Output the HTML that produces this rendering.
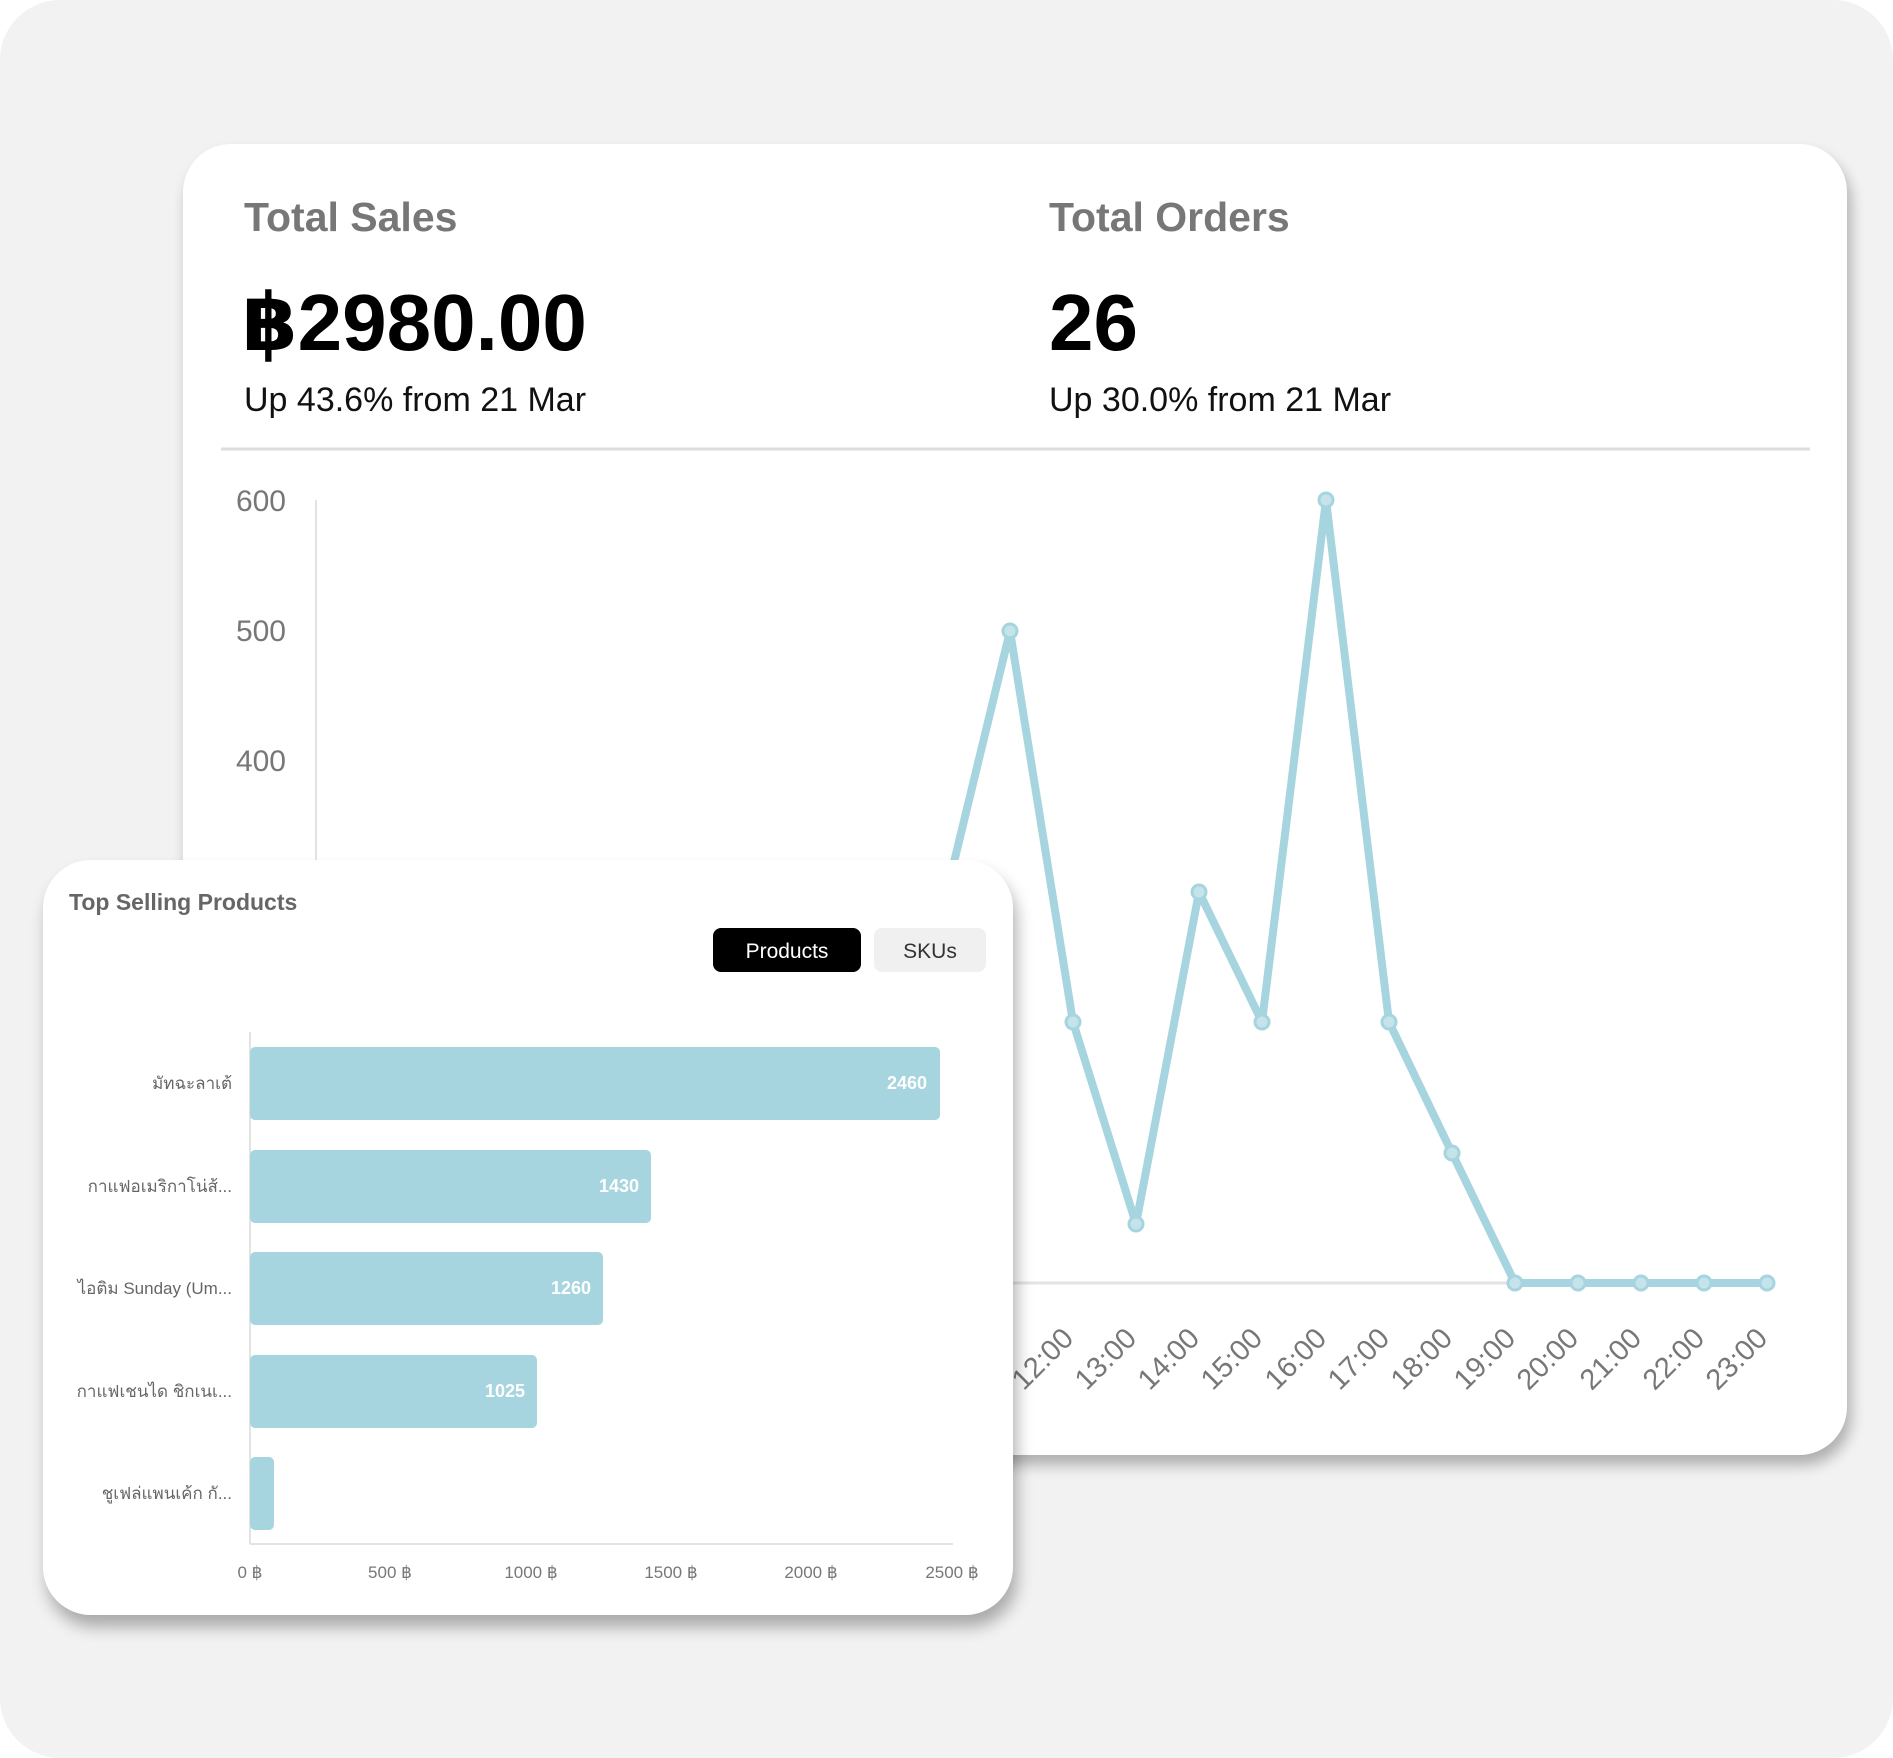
<!DOCTYPE html>
<html><head><meta charset="utf-8"><style>
html,body{margin:0;padding:0;background:#fff;}
body{width:1893px;height:1758px;position:relative;overflow:hidden;font-family:"Liberation Sans","DejaVu Sans",sans-serif;}
.bg{position:absolute;left:0;top:0;width:1893px;height:1758px;background:#f2f2f2;border-radius:60px;}
.card{position:absolute;background:#fff;border-radius:48px;}
svg{position:absolute;left:0;top:0;}
</style></head><body>
<div class="bg"></div>
<div class="card" style="left:183px;top:144px;width:1664px;height:1311px;box-shadow:4px 10px 14px rgba(0,0,0,0.28);"></div>
<svg width="1893" height="1758" viewBox="0 0 1893 1758" style="font-family:'Liberation Sans','DejaVu Sans',sans-serif">
 <text x="244" y="231" font-size="41" font-weight="bold" fill="#777">Total Sales</text>
 <text x="1049" y="231" font-size="41" font-weight="bold" fill="#777">Total Orders</text>
 <text x="242" y="350" font-size="80" font-weight="bold" fill="#000">฿2980.00</text>
 <text x="1049" y="350" font-size="80" font-weight="bold" fill="#000">26</text>
 <text x="244" y="411" font-size="34" fill="#111">Up 43.6% from 21 Mar</text>
 <text x="1049" y="411" font-size="34" fill="#111">Up 30.0% from 21 Mar</text>
 <line x1="221" y1="449" x2="1810" y2="449" stroke="#ddd" stroke-width="3"/>
 <g font-size="30" fill="#777" text-anchor="end">
  <text x="286" y="511">600</text><text x="286" y="641">500</text><text x="286" y="771">400</text>
 </g>
 <line x1="316" y1="500" x2="316" y2="1283" stroke="#e3e3e3" stroke-width="2"/>
 <line x1="316" y1="1283" x2="1767" y2="1283" stroke="#e3e3e3" stroke-width="3"/>
 <polyline fill="none" stroke="#a6d5df" stroke-width="8" stroke-linejoin="round"
  points="884,1020 947,891 1010,631 1073,1022 1136,1224 1199,892 1262,1022 1326,500 1389,1022 1452,1153 1515,1283 1578,1283 1641,1283 1704,1283 1767,1283"/>
 <g fill="#c5e3ea" stroke="#a6d5df" stroke-width="3">
  <circle cx="1010" cy="631" r="7"/><circle cx="1073" cy="1022" r="7"/><circle cx="1136" cy="1224" r="7"/><circle cx="1199" cy="892" r="7"/><circle cx="1262" cy="1022" r="7"/><circle cx="1326" cy="500" r="7"/><circle cx="1389" cy="1022" r="7"/><circle cx="1452" cy="1153" r="7"/><circle cx="1515" cy="1283" r="7"/><circle cx="1578" cy="1283" r="7"/><circle cx="1641" cy="1283" r="7"/><circle cx="1704" cy="1283" r="7"/><circle cx="1767" cy="1283" r="7"/>
 </g>
 <g font-size="29" fill="#777" text-anchor="end">
  <text transform="translate(1012,1340) rotate(-45)">11:00</text>
  <text transform="translate(1075,1340) rotate(-45)">12:00</text>
  <text transform="translate(1138,1340) rotate(-45)">13:00</text>
  <text transform="translate(1201,1340) rotate(-45)">14:00</text>
  <text transform="translate(1264,1340) rotate(-45)">15:00</text>
  <text transform="translate(1328,1340) rotate(-45)">16:00</text>
  <text transform="translate(1391,1340) rotate(-45)">17:00</text>
  <text transform="translate(1454,1340) rotate(-45)">18:00</text>
  <text transform="translate(1517,1340) rotate(-45)">19:00</text>
  <text transform="translate(1580,1340) rotate(-45)">20:00</text>
  <text transform="translate(1643,1340) rotate(-45)">21:00</text>
  <text transform="translate(1706,1340) rotate(-45)">22:00</text>
  <text transform="translate(1769,1340) rotate(-45)">23:00</text>
 </g>
</svg>
<div class="card" style="left:43px;top:860px;width:970px;height:755px;box-shadow:4px 12px 16px rgba(0,0,0,0.3);"></div>
<svg width="1893" height="1758" viewBox="0 0 1893 1758" style="font-family:'Liberation Sans','DejaVu Sans',sans-serif">
 <text x="69" y="910" font-size="23" font-weight="bold" fill="#666">Top Selling Products</text>
 <rect x="713" y="928" width="148" height="44" rx="8" fill="#000"/>
 <text x="787" y="958" font-size="21" fill="#fff" text-anchor="middle">Products</text>
 <rect x="874" y="928" width="112" height="44" rx="8" fill="#f0f0f0"/>
 <text x="930" y="958" font-size="21" fill="#333" text-anchor="middle">SKUs</text>
 <line x1="250" y1="1032" x2="250" y2="1544" stroke="#e3e3e3" stroke-width="2"/>
 <line x1="250" y1="1544" x2="953" y2="1544" stroke="#e3e3e3" stroke-width="2"/>
 <g fill="#a6d5df">
  <rect x="250" y="1047" width="690" height="73" rx="5"/>
  <rect x="250" y="1150" width="401" height="73" rx="5"/>
  <rect x="250" y="1252" width="353" height="73" rx="5"/>
  <rect x="250" y="1355" width="287" height="73" rx="5"/>
  <rect x="250" y="1457" width="24" height="73" rx="5"/>
 </g>
 <g font-size="18" font-weight="bold" fill="#fff" text-anchor="end">
  <text x="927" y="1089">2460</text><text x="639" y="1192">1430</text><text x="591" y="1294">1260</text><text x="525" y="1397">1025</text>
 </g>
 <g font-size="17" fill="#666" text-anchor="end">
  <text x="232" y="1089">มัทฉะลาเต้</text>
  <text x="232" y="1192">กาแฟอเมริกาโน่ส้...</text>
  <text x="232" y="1294">ไอติม Sunday (Um...</text>
  <text x="232" y="1397">กาแฟเชนได ชิกเนเ...</text>
  <text x="232" y="1499">ชูเฟล่แพนเค้ก กั...</text>
 </g>
 <g font-size="17" fill="#777" text-anchor="middle">
  <text x="250" y="1578">0 ฿</text><text x="390" y="1578">500 ฿</text><text x="531" y="1578">1000 ฿</text><text x="671" y="1578">1500 ฿</text><text x="811" y="1578">2000 ฿</text><text x="952" y="1578">2500 ฿</text>
 </g>
</svg>
</body></html>
